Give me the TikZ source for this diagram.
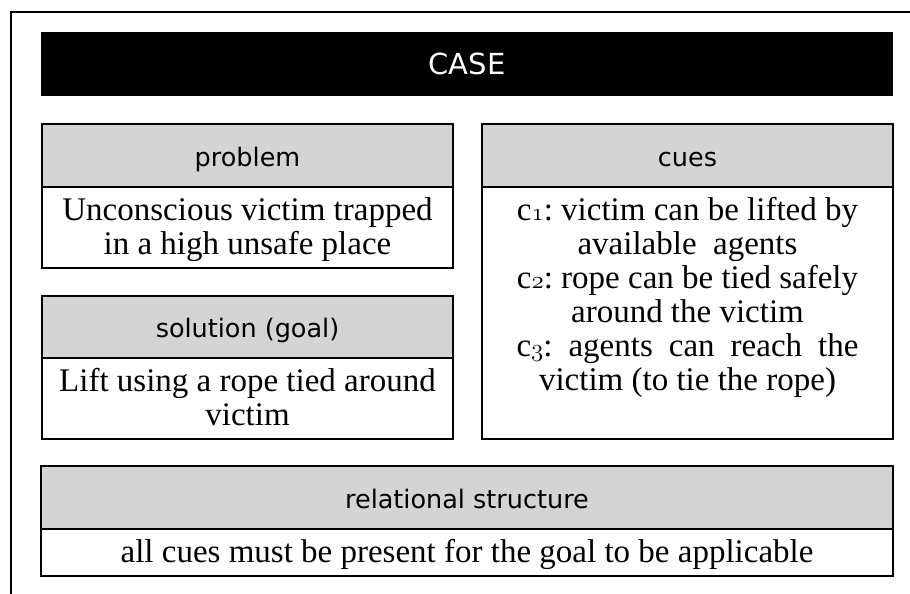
\documentclass[tikz,border=0pt]{standalone}
\usepackage{fontspec}
\setmainfont{Liberation Serif}
\newfontfamily\hdfont{DejaVu Sans}
\usepackage{tikz}
\usetikzlibrary{positioning}
\definecolor{headgray}{RGB}{212,212,212}
\frenchspacing
\newcommand{\bodystrut}{\rule{0pt}{24pt}}
\newcommand{\osn}[1]{{\fontsize{38}{34}\usefont{OML}{cmm}{m}{it}#1}}

\begin{document}
\begin{tikzpicture}[x=1pt,y=-1pt,
    every node/.style={outer sep=0pt},
    casebar/.style={fill=black,text=white,font=\hdfont\fontsize{29}{32}\selectfont},
    headbox/.style={draw=black,line width=2pt,fill=headgray,anchor=north west,
      text height=24pt,text depth=3pt,font=\hdfont\fontsize{25.5}{28}\selectfont},
    bodybox/.style={draw=black,line width=2pt},
    bodytext/.style={inner sep=0pt,align=center,font=\fontsize{33}{34}\selectfont}]
  \useasboundingbox (0,0) rectangle (910,594);
  \draw[line width=2.4pt] (11,594) -- (11,12) -- (910,12);

  \node[casebar,minimum width=852pt,minimum height=64pt,anchor=north west] (case) at (41,32) {CASE};

  \node[headbox,minimum width=411pt,minimum height=63pt] (problem) at (42,124) {problem};
  \node[bodybox,minimum width=411pt,minimum height=81pt,below=0pt of problem] (problembody) {};
  \node[bodytext,below=9pt of problem] (problemtext)
    {\bodystrut Unconscious victim trapped\\in a high unsafe place};

  \node[headbox,minimum width=411pt,minimum height=62pt] (solution) at (42,296) {solution (goal)};
  \node[bodybox,minimum width=411pt,minimum height=81pt,below=0pt of solution] (solutionbody) {};
  \node[bodytext,below=9pt of solution] (solutiontext)
    {\bodystrut Lift using a rope tied around\\victim};

  \node[headbox,minimum width=411pt,minimum height=63pt] (cues) at (482,124) {cues};
  \node[bodybox,minimum width=411pt,minimum height=252pt,below=0pt of cues] (cuesbody) {};
  \node[bodytext,below=9pt of cues] (cuestext)
    {\bodystrut c\osn{1}: victim can be lifted by\\available\ \ agents\\
     c\osn{2}: rope can be tied safely\\around the victim\\
     \makebox[342pt][s]{c\osn{3}: agents can reach the}\\victim (to tie the rope)};

  \node[headbox,minimum width=852pt,minimum height=63pt] (relation) at (41,466) {relational structure};
  \node[bodybox,minimum width=852pt,minimum height=47pt,below=0pt of relation] (relationbody) {};
  \node[bodytext,below=9pt of relation] (relationtext)
    {\bodystrut all cues must be present for the goal to be applicable};
\end{tikzpicture}
\end{document}
